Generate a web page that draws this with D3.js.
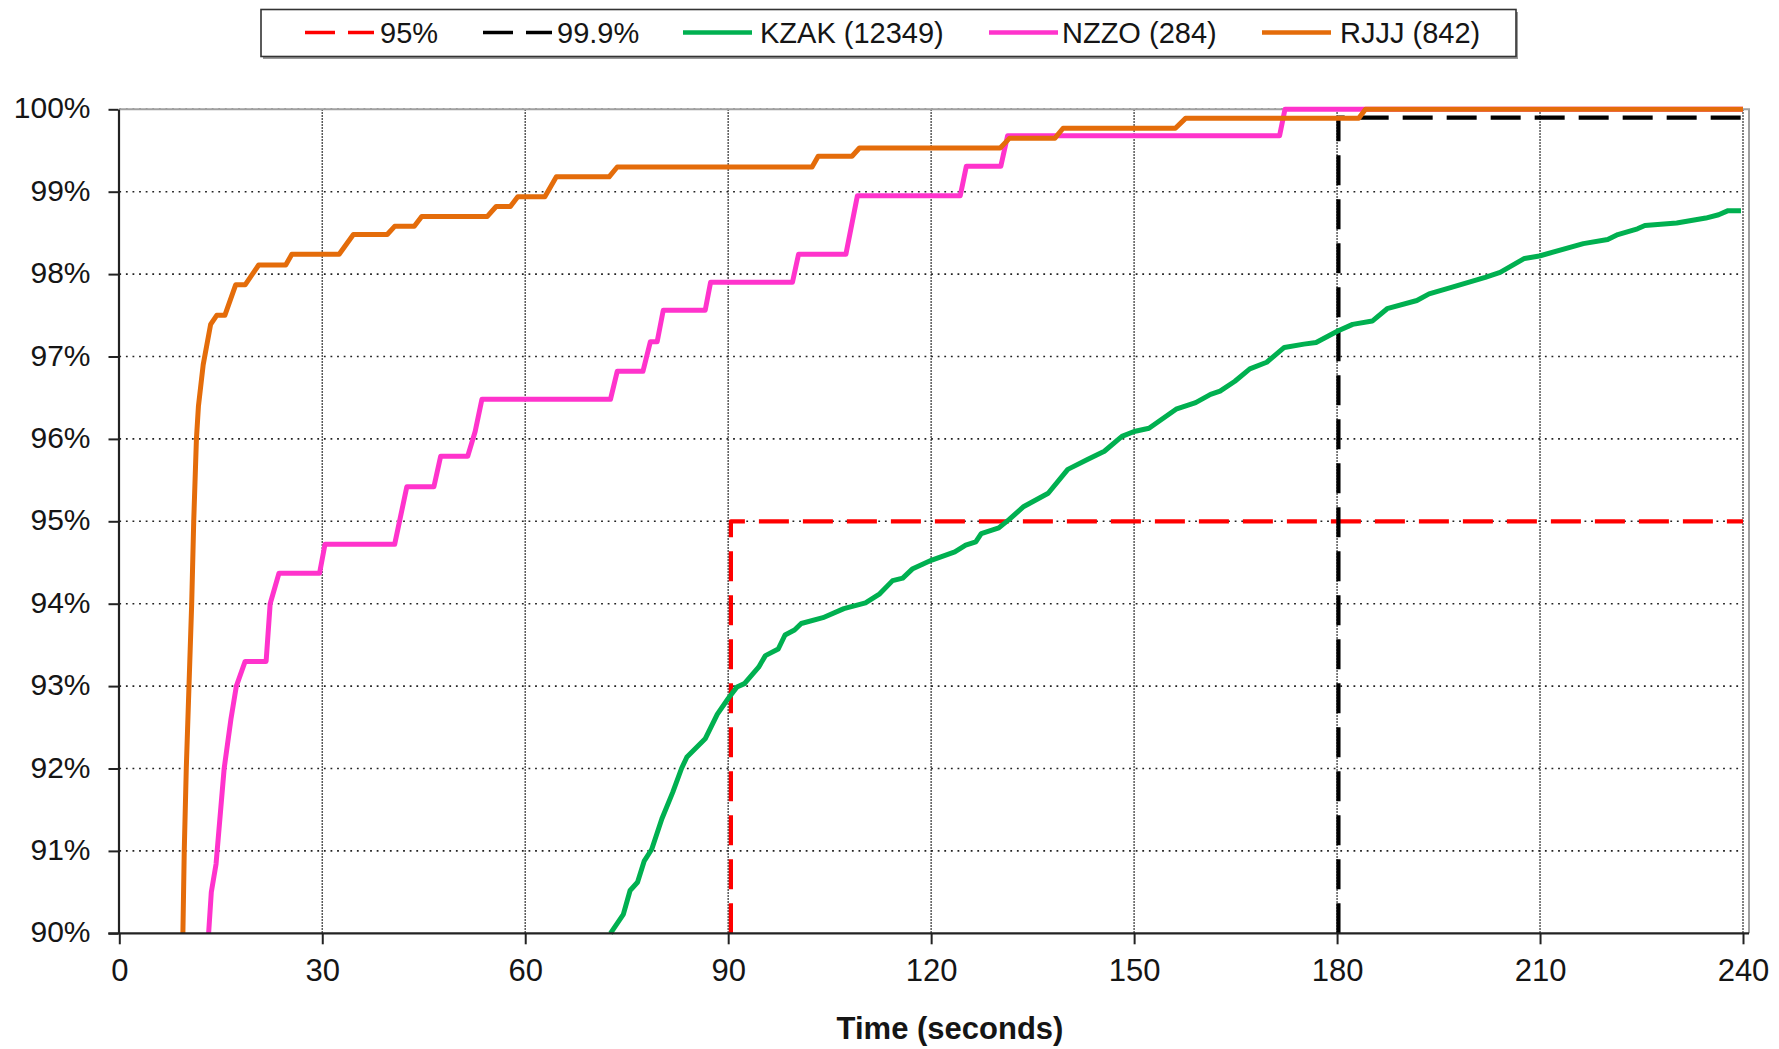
<!DOCTYPE html>
<html>
<head>
<meta charset="utf-8">
<script src="https://cdn.jsdelivr.net/npm/d3@7"></script>
<style>
  html, body { margin: 0; padding: 0; background: #ffffff; }
  svg { display: block; font-family: "Liberation Sans", Arial, sans-serif; }
</style>
</head>
<body>
<svg id="chart" width="1779" height="1049"></svg>
<script>
// ---------- data ----------
const xTickValues = [0, 30, 60, 90, 120, 150, 180, 210, 240];
const yTickValues = [90, 91, 92, 93, 94, 95, 96, 97, 98, 99, 100];
const xTitle = "Time (seconds)";

const legendLabels = ["95%", "99.9%", "KZAK (12349)", "NZZO (284)", "RJJJ (842)"];

// threshold guides
const p95Time = [90.4, 90.4, 240];
const p95Pct  = [90, 95, 95];
const p999Time = [180.2, 180.2, 240];
const p999Pct  = [90, 99.9, 99.9];

// KZAK (12349)
const kzakTime = [72.6, 74.5, 75.5, 76.6, 77.6, 78.7, 80.2, 81.8, 83.1, 83.9, 86.6, 88.4, 90.0, 91.3, 92.4, 94.5, 95.5, 97.4, 98.4, 99.8,
  100.8, 104.0, 107.1, 110.3, 112.4, 114.3, 115.8, 117.2, 120.1, 123.5, 125.1, 126.6, 127.4, 130.0, 131.5, 133.7, 137.3, 140.2, 143.1, 145.6,
  148.2, 150.0, 152.2, 156.2, 159.1, 161.3, 162.7, 164.9, 167.1, 169.6, 172.2, 175.1, 176.9, 180.1, 182.3, 185.2, 187.4, 191.8, 193.6, 196.9,
  201.9, 204.1, 207.7, 209.9, 216.4, 220.0, 221.5, 224.4, 225.5, 230.2, 234.5, 236.4, 237.8, 239.7];
const kzakPct = [90.0, 90.23, 90.52, 90.62, 90.88, 91.02, 91.39, 91.71, 92.0, 92.14, 92.36, 92.66, 92.85, 92.99, 93.03, 93.23, 93.37, 93.45, 93.62, 93.68,
  93.76, 93.83, 93.94, 94.01, 94.12, 94.28, 94.31, 94.42, 94.53, 94.63, 94.71, 94.75, 94.85, 94.92, 95.02, 95.18, 95.34, 95.63, 95.75, 95.85,
  96.03, 96.09, 96.13, 96.36, 96.44, 96.54, 96.58, 96.70, 96.85, 96.93, 97.11, 97.15, 97.17, 97.31, 97.39, 97.43, 97.58, 97.68, 97.76, 97.84,
  97.96, 98.02, 98.19, 98.22, 98.37, 98.42, 98.48, 98.55, 98.59, 98.62, 98.68, 98.72, 98.77, 98.77];

// NZZO (284)
const nzzoTime = [13.2, 13.6, 14.3, 15.5, 16.5, 17.3, 18.6, 21.7, 22.3, 23.6, 29.6, 30.4, 40.7, 42.5, 46.5, 47.5, 51.5, 52.6, 53.6, 72.6,
  73.6, 77.4, 78.5, 79.5, 80.4, 86.6, 87.4, 99.5, 100.4, 107.4, 109.1, 124.3, 125.2, 130.3, 131.3, 171.5, 172.3, 240];
const nzzoPct = [90, 90.5, 90.84, 92.0, 92.6, 93.0, 93.3, 93.3, 94.0, 94.37, 94.37, 94.72, 94.72, 95.42, 95.42, 95.79, 95.79, 96.09, 96.48, 96.48,
  96.82, 96.82, 97.18, 97.18, 97.56, 97.56, 97.90, 97.90, 98.24, 98.24, 98.95, 98.95, 99.31, 99.31, 99.68, 99.68, 100, 100];

// RJJJ (842)
const rjjjTime = [9.4, 9.6, 9.9, 10.3, 10.7, 11.0, 11.4, 11.7, 12.4, 13.5, 14.4, 15.6, 17.2, 18.6, 20.6, 24.6, 25.5, 32.5, 34.6, 39.6,
  40.7, 43.6, 44.7, 54.4, 55.7, 57.8, 58.9, 62.9, 64.6, 72.4, 73.6, 102.4, 103.3, 108.3, 109.4, 130.2, 131.6, 138.3, 139.5, 156.1,
  157.6, 183.2, 184.2, 240];
const rjjjPct = [90, 91, 92, 93, 94, 95, 96, 96.4, 96.9, 97.39, 97.5, 97.5, 97.87, 97.87, 98.11, 98.11, 98.24, 98.24, 98.48, 98.48,
  98.58, 98.58, 98.70, 98.70, 98.82, 98.82, 98.94, 98.94, 99.18, 99.18, 99.30, 99.30, 99.43, 99.43, 99.53, 99.53, 99.65, 99.65, 99.77, 99.77,
  99.89, 99.89, 100, 100];

const seriesColors = ["#ff0000", "#000000", "#00b050", "#ff33cc", "#e46c0a"];

// ---------- layout ----------
const svg = d3.select("#chart");
const x = d3.scaleLinear().domain([0, 240]).range([119.3, 1743]);
const y = d3.scaleLinear().domain([90, 100]).range([933.3, 109.3]);
const plotRight = 1749;

// gridlines
const grid = svg.append("g");
grid.selectAll("line.h").data(yTickValues.filter(v => v > 90)).join("line")
  .attr("x1", x(0)).attr("x2", x(240))
  .attr("y1", d => y(d)).attr("y2", d => y(d))
  .attr("stroke", "#222").attr("stroke-width", 1.6).attr("stroke-dasharray", "1.8,4.8");
grid.selectAll("line.v").data(xTickValues.filter(v => v > 0)).join("line")
  .attr("x1", d => x(d)).attr("x2", d => x(d))
  .attr("y1", y(100)).attr("y2", y(90))
  .attr("stroke", "#222").attr("stroke-width", 1.5).attr("stroke-dasharray", "1.5,1.5");

// plot area border (top & right)
svg.append("path")
  .attr("d", `M${x(0)},${y(100)}H${plotRight}V${y(90)}`)
  .attr("fill", "none").attr("stroke", "#a0a0a0").attr("stroke-width", 2);

// lines
const line = d3.line().x(d => x(d[0])).y(d => y(d[1]));
const marks = svg.append("g");
function drawSeries(t, p, color, width, dash) {
  marks.append("path")
    .datum(d3.zip(t, p))
    .attr("d", line)
    .attr("fill", "none")
    .attr("stroke", color)
    .attr("stroke-width", width)
    .attr("stroke-linejoin", "round")
    .attr("stroke-dasharray", dash || null);
}
drawSeries(p95Time, p95Pct, seriesColors[0], 4.2, "30,14");
drawSeries(p999Time, p999Pct, seriesColors[1], 4.2, "30,14");
drawSeries(kzakTime, kzakPct, seriesColors[2], 5);
drawSeries(nzzoTime, nzzoPct, seriesColors[3], 5);
drawSeries(rjjjTime, rjjjPct, seriesColors[4], 5);

// axes
const yAxis = svg.append("g")
  .attr("transform", `translate(${x(0) - 0.8},0)`)
  .call(d3.axisLeft(y).tickValues(yTickValues).tickFormat(d => d + "%").tickSize(10).tickSizeOuter(0));
yAxis.select(".domain").attr("stroke", "#222").attr("stroke-width", 2.2);
yAxis.selectAll(".tick line").attr("stroke", "#222").attr("stroke-width", 2);
yAxis.selectAll(".tick text")
  .attr("x", -28).attr("dy", 8.5)
  .attr("font-size", 30).attr("fill", "#151515")
  .attr("font-family", '"Liberation Sans", Arial, sans-serif');

const xAxis = svg.append("g")
  .attr("transform", `translate(0,${y(90)})`)
  .call(d3.axisBottom(x).tickValues(xTickValues).tickSize(11).tickSizeOuter(0));
xAxis.select(".domain").attr("d", `M${x(0) - 11},0H${plotRight}`).attr("stroke", "#222").attr("stroke-width", 2.2);
xAxis.selectAll(".tick line").attr("stroke", "#222").attr("stroke-width", 2);
xAxis.selectAll(".tick text")
  .attr("y", 48).attr("dy", 0)
  .attr("font-size", 31).attr("fill", "#151515")
  .attr("font-family", '"Liberation Sans", Arial, sans-serif');

// x title
svg.append("text")
  .attr("x", 950).attr("y", 1039)
  .attr("text-anchor", "middle")
  .attr("font-size", 31).attr("font-weight", "bold").attr("fill", "#151515")
  .text(xTitle);

// legend
const legend = svg.append("g");
legend.append("rect").attr("x", 263).attr("y", 12).attr("width", 1255).attr("height", 47).attr("fill", "#9a9a9a");
legend.append("rect").attr("x", 261).attr("y", 9.5).attr("width", 1255).attr("height", 47)
  .attr("fill", "#fff").attr("stroke", "#333").attr("stroke-width", 1.6);
const legendLineX = [305, 483, 683, 989, 1262];
const legendTextX = [380, 557, 760, 1062, 1340];
const legendDash = ["30,13", "30,13", null, null, null];
legendLabels.forEach((lab, i) => {
  legend.append("line")
    .attr("x1", legendLineX[i]).attr("x2", legendLineX[i] + 69)
    .attr("y1", 32.5).attr("y2", 32.5)
    .attr("stroke", seriesColors[i]).attr("stroke-width", i < 2 ? 3.5 : 4.5)
    .attr("stroke-dasharray", legendDash[i]);
  legend.append("text")
    .attr("x", legendTextX[i]).attr("y", 43)
    .attr("font-size", 29).attr("fill", "#151515")
    .text(lab);
});
</script>
</body>
</html>
